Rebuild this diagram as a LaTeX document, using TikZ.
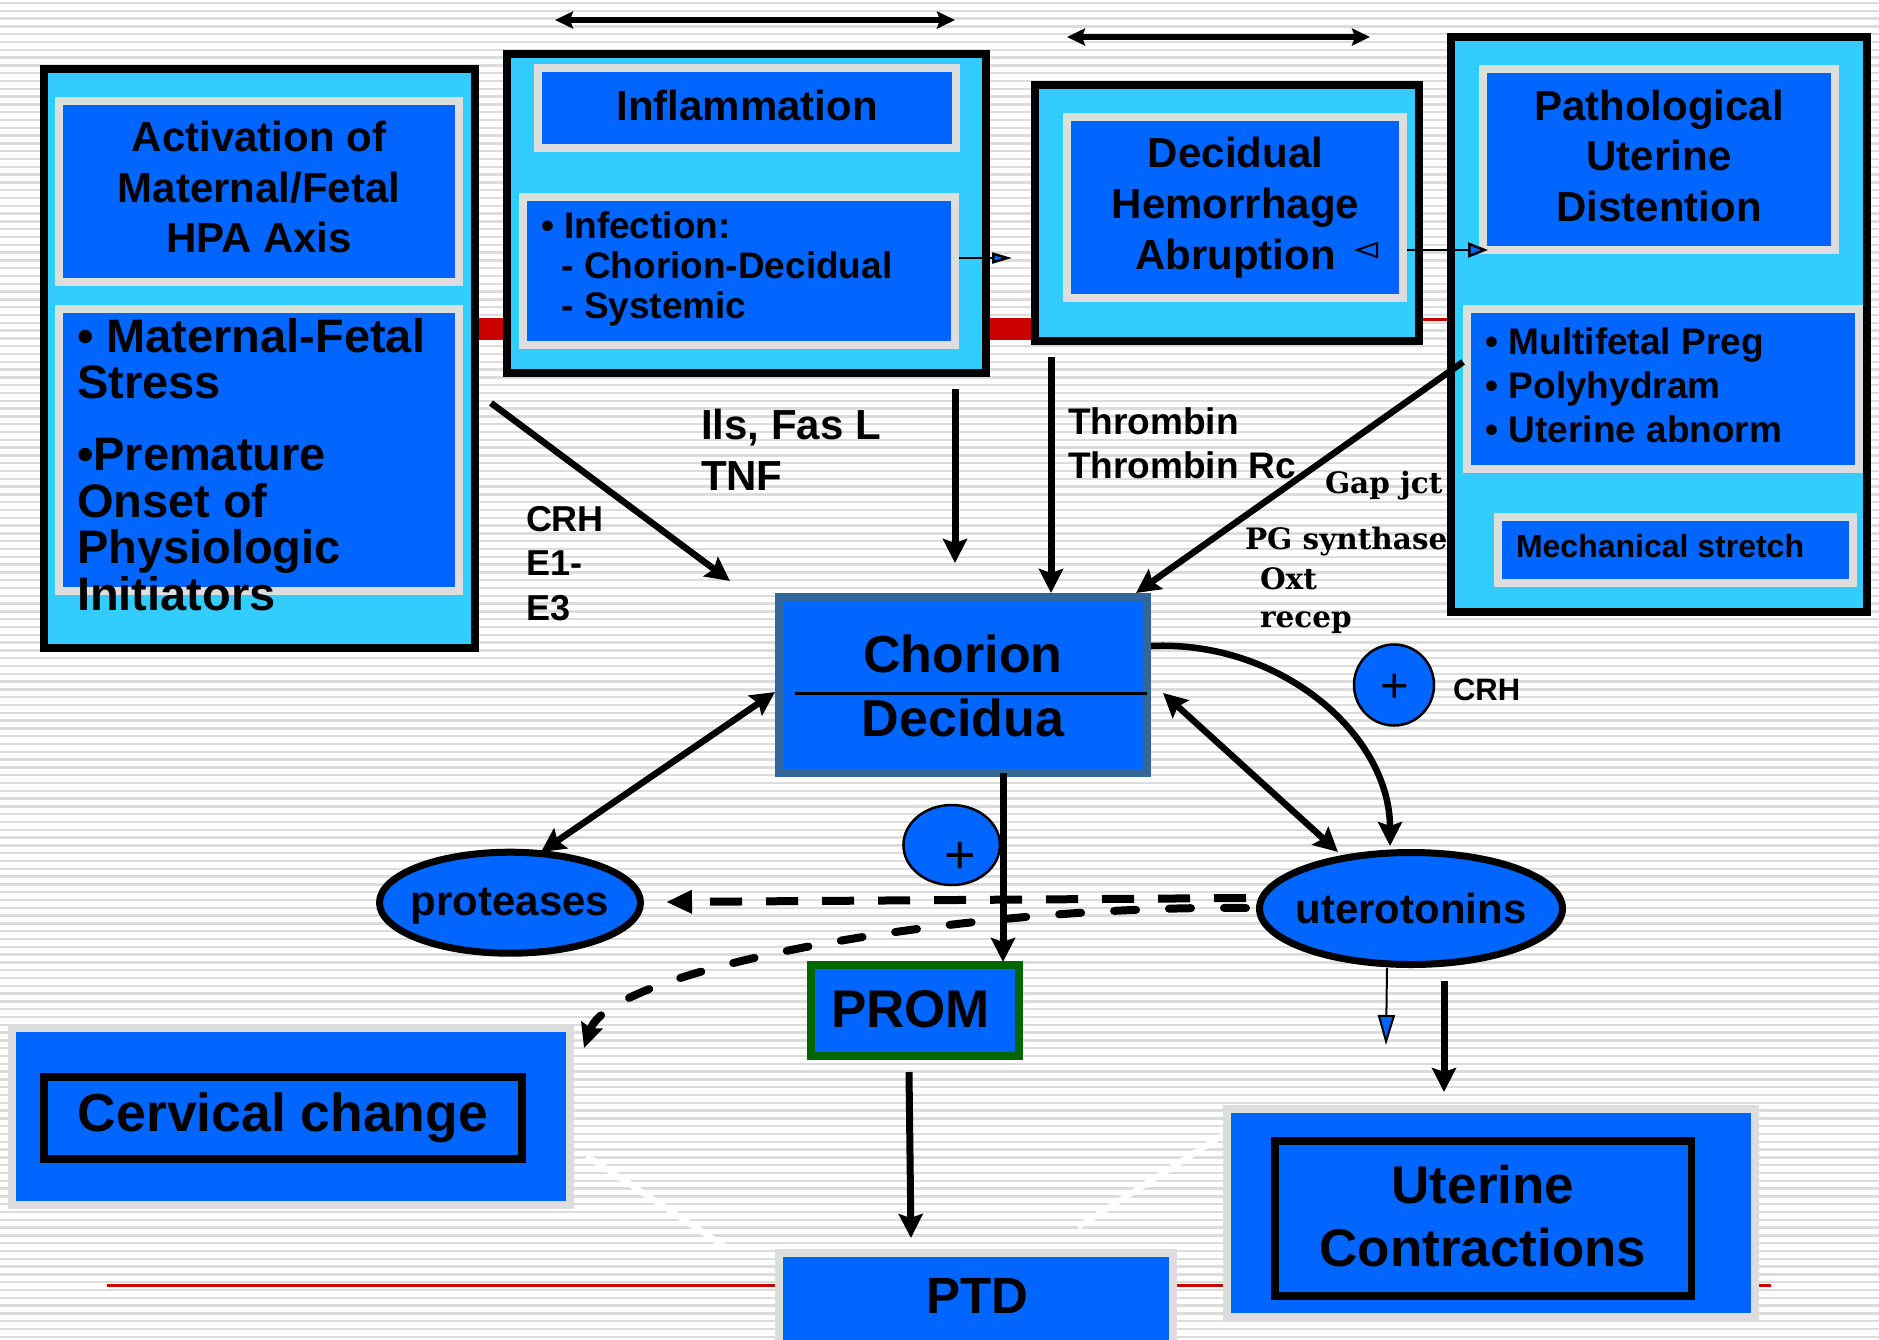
\documentclass[tikz,border=0pt]{standalone}
\usepackage{fontspec}
\setmainfont{Liberation Sans}
\newfontfamily\serf{DejaVu Serif}
\usetikzlibrary{arrows.meta,shapes.geometric}
\definecolor{cyanL}{HTML}{33CCFF}
\definecolor{blueB}{HTML}{0066FF}
\definecolor{grayB}{HTML}{DDDDDD}
\definecolor{steelB}{HTML}{336699}
\definecolor{greenB}{HTML}{006600}
\definecolor{redB}{HTML}{CC0000}
\definecolor{stripeC}{HTML}{DCDCDC}
\newcommand\mlc[1]{\vtop{\halign{\hfil##\hfil\cr#1\crcr}}}
\newcommand\mll[1]{\vtop{\halign{##\hfil\cr#1\crcr}}}
\newcommand\fsz[2]{\fontsize{#1}{#2}\selectfont}
\tikzset{
  obox/.style={rectangle, draw=black, line width=8pt, fill=cyanL, inner sep=0pt, outer sep=0pt},
  gbox/.style={rectangle, draw=grayB, line width=8pt, fill=blueB, inner sep=0pt, outer sep=0pt},
  cbox/.style={rectangle, line width=8pt, fill=blueB, inner sep=0pt, outer sep=0pt},
  kbox/.style={rectangle, draw=black, line width=7.5pt, inner sep=0pt, outer sep=0pt},
  oval/.style={ellipse, draw=black, line width=7pt, fill=blueB, inner sep=0pt, outer sep=0pt},
  plusc/.style={ellipse, draw=black, line width=2.5pt, fill=blueB, inner sep=0pt, outer sep=0pt},
  txt/.style={inner sep=0pt, outer sep=0pt, anchor=base, text=black},
  txtl/.style={txt, anchor=base west},
  arr/.style={line width=6.5pt, -{Stealth[length=24pt, width=24pt, inset=4pt]}},
  darr/.style={line width=6.5pt, {Stealth[length=24pt, width=24pt, inset=4pt]}-{Stealth[length=24pt, width=24pt, inset=4pt]}},
  toparr/.style={line width=5.5pt, {Stealth[length=18pt, width=17pt, inset=3pt]}-{Stealth[length=18pt, width=17pt, inset=3pt]}},
  dsh/.style={line width=8pt, dash pattern=on 32pt off 24pt, -{Triangle[length=26pt, width=22pt]}},
  rdsh/.style={line width=8pt, line cap=round, dash pattern=on 22pt off 33pt, -{Stealth[length=24pt, width=22pt, inset=3pt]}},
}
\begin{document}
\begin{tikzpicture}[x=1pt, y=-1pt]
\useasboundingbox (0,0) rectangle (1879,1339);
\clip (0,0) rectangle (1879,1339);
% background
\fill[white] (0,0) rectangle (1879,1339);
\foreach \k in {0,...,171} \draw[stripeC, line width=2.5pt] (0,{3+\k*7.8}) -- (1879,{3+\k*7.8});
% red lines
\fill[redB] (470,318) rectangle (1040,340);
\draw[redB, line width=3pt] (1415,319.5) -- (1455,319.5);
\draw[redB, line width=3pt] (107,1285) -- (1771,1285);
% white traces
\draw[white, line width=6pt] (587,1156) -- (727,1248);
\draw[white, line width=6pt] (1223,1135) -- (1078,1227);

% boxes
\node[obox, minimum width=431pt, minimum height=579pt] (hpa) at (259.5,358.5) {};
\node[gbox, minimum width=400pt, minimum height=181pt] (hpat) at (259,191.5) {};
\node[gbox, minimum width=400pt, minimum height=282pt] (hpab) at (259,450) {};
\node[obox, minimum width=479pt, minimum height=319pt] (infl) at (746.5,213) {};
\node[gbox, minimum width=418pt, minimum height=79.5pt] (inflt) at (747,107.75) {};
\node[gbox, minimum width=432pt, minimum height=148pt] (infb) at (739,271) {};
\node[obox, minimum width=384pt, minimum height=256pt] (dec) at (1227,213) {};
\node[gbox, minimum width=336pt, minimum height=180.5pt] (dect) at (1235,207.25) {};
\node[obox, minimum width=416pt, minimum height=574.5pt] (pat) at (1659,324.25) {};
\node[gbox, minimum width=352pt, minimum height=180.5pt] (patt) at (1659,159.25) {};
\node[gbox, minimum width=391.5pt, minimum height=160pt] (patb) at (1662.75,389) {};
\node[gbox, minimum width=355pt, minimum height=65.5pt] (mech) at (1675.5,549.75) {};
\node[cbox, draw=steelB, minimum width=368pt, minimum height=176pt] (chor) at (963,685) {};
\node[cbox, draw=greenB, minimum width=208pt, minimum height=91pt] (prom) at (915,1010.5) {};
\node[gbox, minimum width=394.5pt, minimum height=127pt] (ptd) at (976,1316) {};
\node[gbox, minimum width=558pt, minimum height=176.5pt] (cerv) at (291,1116.25) {};
\node[kbox, minimum width=478pt, minimum height=82pt] (cervi) at (283,1118) {};
\node[gbox, minimum width=528pt, minimum height=208pt] (uter) at (1491,1213) {};
\node[kbox, minimum width=416.5pt, minimum height=155pt] (uteri) at (1483.25,1218.5) {};
\node[oval, minimum width=261pt, minimum height=101pt] (prot) at (510,902.7) {};
\node[oval, minimum width=303pt, minimum height=112pt] (uto) at (1411,908.5) {};
\node[plusc, minimum width=96.5pt, minimum height=80pt] (pl1) at (951.7,845) {};
\node[plusc, minimum width=80pt, minimum height=81pt] (pl2) at (1394,685) {};

% chorion divider
\draw[line width=3pt] (795,693) -- (1147,693);

% texts
\node[txt, font=\fsz{42}{50.5}\bfseries] (thpa) at (259,151.5) {\mlc{Activation of\cr Maternal/Fetal\cr HPA Axis}};
\node[txtl, font=\fsz{47}{46.5}\bfseries] (thpb) at (77,352) {\mll{• Maternal-Fetal\cr Stress\cr\noalign{\vskip25.5pt}•Premature\cr Onset of\cr Physiologic\cr Initiators}};
\node[txt, font=\fsz{42}{50}\bfseries] (tinfl) at (747,120) {Inflammation};
\node[txtl, font=\fsz{37}{40}\bfseries] (tinf) at (541,238) {\mll{• Infection:\cr\hskip20.5pt- Chorion-Decidual\cr\hskip20.5pt- Systemic}};
\node[txt, font=\fsz{42}{50.7}\bfseries] (tdec) at (1235.5,167.7) {\mlc{Decidual\cr Hemorrhage\cr Abruption}};
\node[txt, font=\fsz{42}{50.8}\bfseries] (tpat) at (1659,120) {\mlc{Pathological\cr Uterine\cr Distention}};
\node[txtl, font=\fsz{37}{44.3}\bfseries] (tpatb) at (1485.5,354) {\mll{• Multifetal Preg\cr • Polyhydram\cr • Uterine abnorm}};
\node[txtl, font=\fsz{32}{32}\bfseries] (tmech) at (1516,557.7) {Mechanical stretch};
\node[txt, font=\fsz{52}{64}\bfseries] (tchor) at (963,672) {\mlc{Chorion\cr Decidua}};
\node[txt, font=\fsz{53}{53}\bfseries] (tprom) at (910.5,1027) {PROM};
\node[txt, font=\fsz{51}{51}\bfseries] (tptd) at (977,1313) {PTD};
\node[txt, font=\fsz{53.5}{53}\bfseries] (tcerv) at (283,1131.6) {Cervical change};
\node[txt, font=\fsz{53}{63}\bfseries] (tuter) at (1483,1203) {\mlc{Uterine\cr Contractions}};
\node[txt, font=\fsz{42}{42}\bfseries] (tprot) at (510,915.7) {proteases};
\node[txt, font=\fsz{42}{42}\bfseries] (tuto) at (1411,923) {uterotonins};
\node[txtl, font=\fsz{42}{51}\bfseries] (tils) at (701,439) {\mll{Ils, Fas L\cr TNF}};
\node[txtl, font=\fsz{36}{44.5}\bfseries] (tcrh) at (526,531) {\mll{CRH\cr E1-\cr E3}};
\node[txtl, font=\fsz{37}{44}\bfseries] (tthr) at (1068,434.3) {\mll{Thrombin\cr Thrombin Rc}};
\node[txtl, font=\serf\bfseries\fsz{29.5}{39}] (tgap) at (1325,493) {Gap jct};
\node[txtl, font=\serf\bfseries\fsz{29.5}{39}] (tpg) at (1245,549) {PG synthase};
\node[txtl, font=\serf\bfseries\fsz{29.5}{38}] (toxt) at (1260,589) {\mll{Oxt\cr recep}};
\node[txtl, font=\fsz{31}{31}\bfseries] (tcrh2) at (1453,700) {CRH};
\node[txt, anchor=center, font=\fsz{54}{54}] (pl1t) at (960,858) {+};
\node[txt, anchor=center, font=\fsz{49}{49}] (pl2t) at (1395,688) {+};

% small triangle in decidual box
\draw[line width=2pt, fill=blueB] (1357,250) -- (1377,243) -- (1377,257) -- cycle;

% connector end points
\coordinate (a1s) at (555,20); \coordinate (a1e) at (955,20);
\coordinate (a2s) at (1067,37); \coordinate (a2e) at (1370,37);
\coordinate (hpaS) at (491,403); \coordinate (hpaE) at (730,581);
\coordinate (inflS) at (955,389); \coordinate (inflE) at (955,563);
\coordinate (decS) at (1051,357); \coordinate (decE) at (1051,593);
\coordinate (patS) at (1463,362); \coordinate (patE) at (1136,593);
\coordinate (chL) at (775,692); \coordinate (protT) at (541,852);
\coordinate (chR) at (1163,693); \coordinate (utoT) at (1338,852);
\coordinate (chC) at (1151,646); \coordinate (utoC) at (1390,846);
\coordinate (chB) at (1003,773); \coordinate (promT) at (1003,962);
\coordinate (promB) at (909,1072); \coordinate (ptdT) at (911,1238);
\coordinate (utoL1) at (1246,898); \coordinate (protR) at (666,902);
\coordinate (utoL2) at (1246,908); \coordinate (cervT) at (584,1048);
\coordinate (utoB) at (1387,968); \coordinate (thinE) at (1386,1045);
\coordinate (ucS) at (1444,981); \coordinate (ucE) at (1444,1092);
\coordinate (infR) at (959,258); \coordinate (decL) at (1012,258);
\coordinate (decR) at (1407,250); \coordinate (patL) at (1488,250);

% connectors
\draw[toparr] (a1s) -- (a1e);
\draw[toparr] (a2s) -- (a2e);
\draw[arr] (hpaS) -- (hpaE);
\draw[arr, line width=7pt] (inflS) -- (inflE);
\draw[arr, line width=7pt] (decS) -- (decE);
\draw[arr] (patS) -- (patE);
\draw[darr] (chL) -- (protT);
\draw[darr] (chR) -- (utoT);
\draw[arr] (chC) .. controls (1282,640) and (1390,736) .. (utoC);
\draw[dsh] (utoL1) -- (protR);
\draw[rdsh] (utoL2) .. controls (950,905) and (611,970) .. (cervT);
\draw[arr, line width=7pt] (chB) -- (promT);
\draw[arr, line width=7pt] (promB) -- (ptdT);
\draw[line width=2pt, -{Triangle[length=30pt, width=17pt, fill=blueB]}] (utoB) -- (thinE);
\draw[arr, line width=7pt] (ucS) -- (ucE);
\draw[line width=2.5pt, -{Triangle[length=20pt, width=11pt, fill=blueB]}] (infR) -- (decL);
\draw[line width=2.5pt, -{Triangle[length=20pt, width=15pt, fill=blueB]}] (decR) -- (patL);
\end{tikzpicture}
\end{document}
